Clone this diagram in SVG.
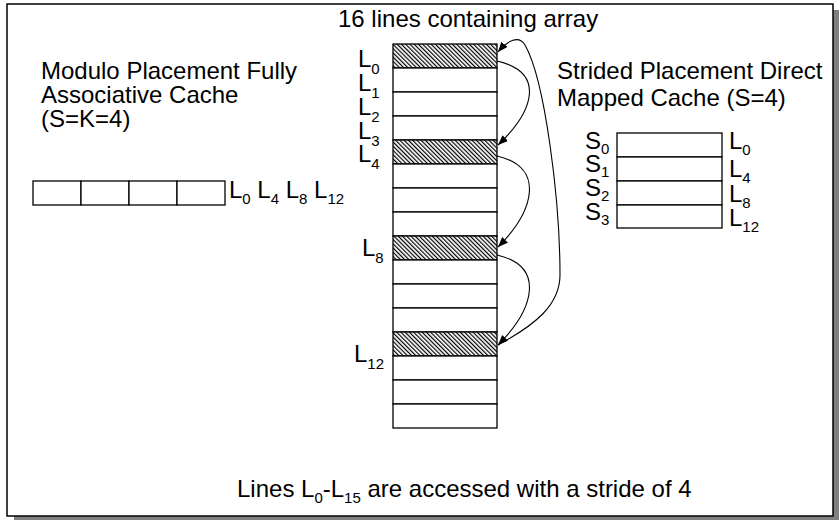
<svg xmlns="http://www.w3.org/2000/svg" width="839" height="520" viewBox="0 0 839 520">
<defs>
<style>
text{font-family:"Liberation Sans",Arial,sans-serif;font-size:24px;fill:#000}
.sub{font-size:15px}
.cell{fill:#fff;stroke:#000;stroke-width:1.3}
.hat{fill:url(#hatch);stroke:#000;stroke-width:1.3}
.arc{fill:none;stroke:#000;stroke-width:1.1;marker-end:url(#ah)}
</style>
<pattern id="hatch" width="3" height="3" patternUnits="userSpaceOnUse" patternTransform="rotate(-45)">
<rect width="3" height="3" fill="#fff"/>
<line x1="0.6" y1="0" x2="0.6" y2="3" stroke="#000" stroke-width="1.2"/>
</pattern>
<marker id="ah" markerWidth="11" markerHeight="9" refX="10" refY="4" orient="auto" markerUnits="userSpaceOnUse">
<path d="M0,0 L10,4 L0,8 z" fill="#000"/>
</marker>
</defs>
<rect x="14" y="10" width="825" height="510" fill="#808080"/>
<rect x="7" y="4" width="826" height="512" fill="#fff" stroke="#000" stroke-width="1.5"/>

<g id="title"><text x="338" y="27">16 lines containing array</text></g>

<g id="array">
<rect class="hat" x="393" y="44" width="104" height="24"/>
<rect class="cell" x="393" y="68" width="104" height="24"/>
<rect class="cell" x="393" y="92" width="104" height="24"/>
<rect class="cell" x="393" y="116" width="104" height="24"/>
<rect class="hat" x="393" y="140" width="104" height="24"/>
<rect class="cell" x="393" y="164" width="104" height="24"/>
<rect class="cell" x="393" y="188" width="104" height="24"/>
<rect class="cell" x="393" y="212" width="104" height="24"/>
<rect class="hat" x="393" y="236" width="104" height="24"/>
<rect class="cell" x="393" y="260" width="104" height="24"/>
<rect class="cell" x="393" y="284" width="104" height="24"/>
<rect class="cell" x="393" y="308" width="104" height="24"/>
<rect class="hat" x="393" y="332" width="104" height="24"/>
<rect class="cell" x="393" y="356" width="104" height="24"/>
<rect class="cell" x="393" y="380" width="104" height="24"/>
<rect class="cell" x="393" y="404" width="104" height="24"/>
</g>

<g id="array-labels">
<text x="358" y="67">L<tspan class="sub" dy="7">0</tspan></text>
<text x="358" y="91">L<tspan class="sub" dy="7">1</tspan></text>
<text x="358" y="115">L<tspan class="sub" dy="7">2</tspan></text>
<text x="358" y="139">L<tspan class="sub" dy="7">3</tspan></text>
<text x="358" y="162">L<tspan class="sub" dy="7">4</tspan></text>
<text x="362" y="256">L<tspan class="sub" dy="7">8</tspan></text>
<text x="354" y="362">L<tspan class="sub" dy="7">12</tspan></text>
</g>

<g id="connectors">
<path class="arc" d="M497,61 C545,72 535,110 498,145"/>
<path class="arc" d="M497,156 C545,167 535,210 498,247"/>
<path class="arc" d="M497,255 C545,266 535,308 498,345"/>
<path class="arc" d="M498,345 C535,325 560,305 560,275 C560,200 545,80 525,45 C519,35 508,40 498,52"/>
</g>

<g id="fully-assoc">
<text x="41" y="79">Modulo Placement Fully</text>
<text x="41" y="103">Associative Cache</text>
<text x="41" y="127">(S=K=4)</text>
<rect class="cell" x="33" y="181" width="48" height="24"/>
<rect class="cell" x="81" y="181" width="48" height="24"/>
<rect class="cell" x="129" y="181" width="48" height="24"/>
<rect class="cell" x="177" y="181" width="48" height="24"/>
<text x="229" y="198">L<tspan class="sub" dy="6">0</tspan><tspan dy="-6"> L</tspan><tspan class="sub" dy="6">4</tspan><tspan dy="-6"> L</tspan><tspan class="sub" dy="6">8</tspan><tspan dy="-6"> L</tspan><tspan class="sub" dy="6">12</tspan></text>
</g>

<g id="direct-mapped">
<text x="557" y="79">Strided Placement Direct</text>
<text x="557" y="106">Mapped Cache (S=4)</text>
<rect class="cell" x="617" y="133" width="105" height="24"/>
<rect class="cell" x="617" y="157" width="105" height="24"/>
<rect class="cell" x="617" y="181" width="105" height="24"/>
<rect class="cell" x="617" y="205" width="105" height="23"/>
<text x="585" y="149">S<tspan class="sub" dy="5">0</tspan></text>
<text x="585" y="172">S<tspan class="sub" dy="5">1</tspan></text>
<text x="585" y="196">S<tspan class="sub" dy="5">2</tspan></text>
<text x="585" y="220">S<tspan class="sub" dy="5">3</tspan></text>
<text x="729" y="149">L<tspan class="sub" dy="6">0</tspan></text>
<text x="729" y="177">L<tspan class="sub" dy="6">4</tspan></text>
<text x="729" y="202">L<tspan class="sub" dy="6">8</tspan></text>
<text x="729" y="226">L<tspan class="sub" dy="6">12</tspan></text>
</g>

<g id="caption"><text x="237" y="497">Lines L<tspan class="sub" dy="6">0</tspan><tspan dy="-6">-L</tspan><tspan class="sub" dy="6">15</tspan><tspan dy="-6"> are accessed with a stride of 4</tspan></text></g>
</svg>
